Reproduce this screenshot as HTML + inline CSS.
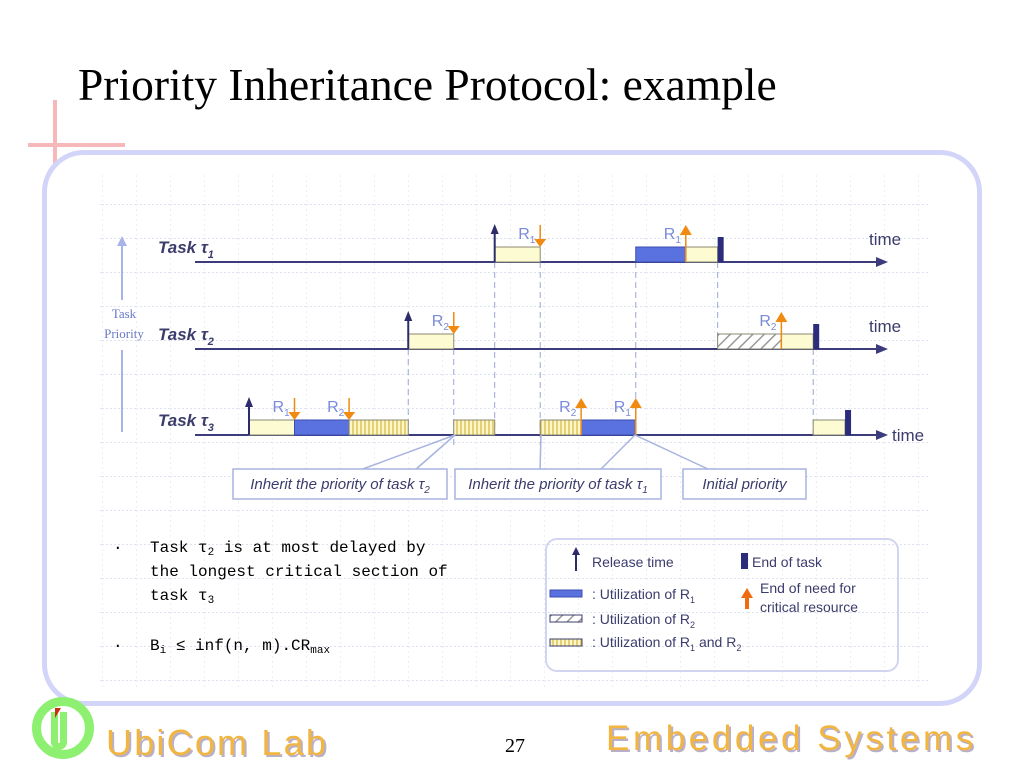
<!DOCTYPE html>
<html><head><meta charset="utf-8">
<style>
body{margin:0;width:1024px;height:768px;background:#fff;position:relative;overflow:hidden;font-family:"Liberation Sans",sans-serif}
.abs{position:absolute}
#title{left:78px;top:58px;font-family:"Liberation Serif",serif;font-size:45.5px;color:#000;white-space:nowrap}
#frame{left:42px;top:150px;width:930px;height:546px;border:5px solid #d2d5f8;border-radius:42px}
.bul{font-family:"Liberation Mono","DejaVu Sans Mono",monospace;font-size:16px;color:#000;line-height:24px}
.bul sub{font-size:11px;line-height:0;vertical-align:-3px}
.foot{font-family:"Liberation Sans",sans-serif;font-size:36px;color:#f2b640;text-shadow:2px 2px 0 #b9b0c8;letter-spacing:2.4px;white-space:nowrap}
</style></head><body>
<div class="abs" id="title">Priority Inheritance Protocol: example</div>
<div class="abs" style="left:28px;top:143px;width:97px;height:4px;background:#f6b8b8"></div>
<div class="abs" style="left:53px;top:100px;width:4px;height:65px;background:#f6b8b8"></div>
<div class="abs" id="frame"></div>

<svg class="abs" style="left:0;top:0" width="1024" height="768" id="chart">
<defs>
<pattern id="hatch" width="8" height="8" patternUnits="userSpaceOnUse" patternTransform="rotate(45)"><rect width="8" height="8" fill="#fff"/><line x1="0" y1="0" x2="0" y2="8" stroke="#999" stroke-width="3"/></pattern>
<pattern id="vstripe" width="4" height="8" patternUnits="userSpaceOnUse"><rect width="4" height="8" fill="#fdf6c8"/><line x1="1" y1="0" x2="1" y2="8" stroke="#d8b840" stroke-width="1.2"/></pattern>
<pattern id="dots" width="34" height="34" patternUnits="userSpaceOnUse"><line x1="0" y1="0.5" x2="34" y2="0.5" stroke="#dde2ee" stroke-dasharray="2 2"/><line x1="0.5" y1="0" x2="0.5" y2="34" stroke="#eceff5" stroke-dasharray="2 3"/></pattern>
<marker id="ah" markerUnits="userSpaceOnUse" markerWidth="12" markerHeight="12" refX="6" refY="6" orient="auto"><path d="M0,1 L12,6 L0,11 z" fill="#3c3c7c"/></marker>
<marker id="ahs" markerUnits="userSpaceOnUse" markerWidth="10" markerHeight="10" refX="5" refY="5" orient="auto"><path d="M0,1 L10,5 L0,9 z" fill="#2c2c6c"/></marker>
</defs>
<rect x="100" y="175" width="830" height="515" fill="url(#dots)"/>
<g id="g"></g>
</svg>

<div class="abs bul" style="left:113px;top:536px">·</div>
<div class="abs bul" style="left:150px;top:536px">Task τ<sub>2</sub> is at most delayed by<br>the longest critical section of<br>task τ<sub>3</sub></div>
<div class="abs bul" style="left:113px;top:634px">·</div>
<div class="abs bul" style="left:150px;top:634px">B<sub>i</sub> ≤ inf(n, m).CR<sub>max</sub></div>

<div class="abs" style="left:545px;top:538px;width:350px;height:130px;border:2px solid #d2d5f0;border-radius:12px"></div>

<div class="abs" style="left:32px;top:697px;width:62px;height:62px;border-radius:50%;border:9px solid #8ef070;box-sizing:border-box"></div>
<div class="abs" style="left:51px;top:712px;width:16px;height:38px;border:7px solid #8ef070;border-top:none;border-radius:0 0 8px 8px;box-sizing:border-box"></div>
<div class="abs" style="left:55px;top:708px;width:0;height:0;border-left:6px solid #c83010;border-bottom:10px solid transparent"></div>
<div class="abs foot" style="left:106px;top:722px;letter-spacing:2.2px">UbiCom Lab</div>
<div class="abs" style="left:505px;top:735px;font-family:'Liberation Serif',serif;font-size:20px">27</div>
<div class="abs foot" style="left:606px;top:719px;font-size:35px;letter-spacing:3.6px">Embedded Systems</div>

<script>
// time units; x = X0 + t*UNIT
const taskNames=["τ1","τ2","τ3"];
const releases=[5.4,3.5,0];
const ends=[10.3,12.4,13.1];
// segments
const segTask=[0,0,0, 1,1,1, 2,2,2,2,2,2,2];
const segStart=[5.4,8.5,9.6, 3.5,10.3,11.7, 0,1,2.2,4.5,6.4,7.3,12.4];
const segEnd=[6.4,9.6,10.3, 4.5,11.7,12.4, 1,2.2,3.5,5.4,7.3,8.5,13.1];
const segKind=["plain","r1","plain","plain","r2","plain","plain","r1","r12","r12","r12","r1","plain"];
// resource events
const evTask=[0,0,1,1,2,2,2,2];
const evTime=[6.4,9.6,4.5,11.7,1,2.2,7.3,8.5];
const evRes=["1","1","2","2","1","2","2","1"];
const evDir=["down","up","down","up","down","down","up","up"];
const dashTimes=[3.5,4.5,5.4,6.4,8.5,10.3,12.4];
const dashFrom=[1,1,0,0,0,0,1];
const dashTo=[2,2,2,2,2,1,2];

const X0=249,UNIT=45.5,AX=[262,349,435],H=15;
const x=t=>X0+t*UNIT;
const g=document.getElementById('g');
const NS='http://www.w3.org/2000/svg';
function mk(tag,at){const e=document.createElementNS(NS,tag);for(const k in at)e.setAttribute(k,at[k]);g.appendChild(e);return e;}
const fills={plain:"#fdfbd2",r1:"#5a72e0",r2:"url(#hatch)",r12:"url(#vstripe)"};

dashTimes.forEach((t,i)=>{const e=mk('line',{x1:x(t),x2:x(t),y1:AX[dashFrom[i]],y2:AX[dashTo[i]]+(t==4.5||t==6.4?10:0),stroke:'#9aa6d8','stroke-dasharray':'6 4','stroke-width':1});

});

AX.forEach((y,i)=>{const e=mk('line',{x1:195,x2:882,y1:y,y2:y,stroke:'#3c3c7c','stroke-width':2,'marker-end':'url(#ah)'});


const l=mk('text',{x:158,y:y-9,'font-size':17,'font-style':'italic','font-weight':'bold',fill:'#3c3c6c'});l.textContent='Task '+taskNames[i].slice(0,1);
const s=mk('tspan',{'font-size':11,dy:5});s.textContent=taskNames[i].slice(1);l.appendChild(s);


const tt=mk('text',{x:i==2?892:869,y:i==2?y+6:y-17,'font-size':17,fill:'#3c3c6c'});tt.textContent='time';

});

segTask.forEach((k,i)=>{const e=mk('rect',{x:x(segStart[i]),y:AX[k]-H,width:x(segEnd[i])-x(segStart[i]),height:H,fill:fills[segKind[i]],stroke:segKind[i]=='r1'?'#3c4cb0':'#8a8a70','stroke-width':1});

});

releases.forEach((t,k)=>{const e=mk('line',{x1:x(t),x2:x(t),y1:AX[k],y2:AX[k]-33,stroke:'#2c2c6c','stroke-width':2,'marker-end':'url(#ahs)'});

});
ends.forEach((t,k)=>{const e=mk('rect',{x:x(t),y:AX[k]-25,width:6,height:25,fill:'#2c2c7c'});

});
evTask.forEach((k,i)=>{const X=x(evTime[i]),y=AX[k]-H;
let p;if(evDir[i]=='down'){mk('line',{x1:X,x2:X,y1:y-22,y2:y-6,stroke:'#f08a10','stroke-width':1.5});p=mk('path',{d:`M${X-6},${y-8} L${X+6},${y-8} L${X},${y} z`,fill:'#f08a10'});}
else{mk('line',{x1:X,x2:X,y1:y+H,y2:y-12,stroke:'#f08a10','stroke-width':1.5});p=mk('path',{d:`M${X-6},${y-12} L${X+6},${y-12} L${X},${y-22} z`,fill:'#f08a10'});}


const t=mk('text',{x:X-22,y:y-8,'font-size':16,fill:'#7a8ad8'});t.textContent='R';const s=mk('tspan',{'font-size':10,dy:4});s.textContent=evRes[i];t.appendChild(s);

});

let e=mk('line',{x1:122,x2:122,y1:300,y2:238,stroke:'#a8b4e8','stroke-width':2});


mk('path',{d:'M117,246 L127,246 L122,236 z',fill:'#a8b4e8'});
mk('line',{x1:122,x2:122,y1:350,y2:432,stroke:'#a8b4e8','stroke-width':2});
[['Task',318],['Priority',338]].forEach(([s,y])=>{const t=mk('text',{x:124,y:y,'font-size':13,'text-anchor':'middle',fill:'#6a7ac8','font-family':'Liberation Serif'});t.textContent=s;

});

[[233,447,'Inherit the priority of task τ','2',[[455,435,360,470],[455,435,415,470]]],[455,661,'Inherit the priority of task τ','1',[[541,435,540,470],[635,435,600,470]]],[683,806,'Initial priority','',[[635,435,710,470]]]].forEach(([a,b,s,sub,ls],i)=>{
ls.forEach(l=>mk('line',{x1:l[0],y1:l[1],x2:l[2],y2:l[3],stroke:'#a8b4e0','stroke-width':1.5}));
const r=mk('rect',{x:a,y:469,width:b-a,height:30,fill:'#fff',stroke:'#a8b4e0','stroke-width':1.5});


const t=mk('text',{x:(a+b)/2,y:489,'font-size':15,'font-style':'italic','text-anchor':'middle',fill:'#3c3c6c'});t.textContent=s;
if(sub){const sp=mk('tspan',{'font-size':10,dy:4});sp.textContent=sub;t.appendChild(sp);}

});

mk('line',{x1:576,x2:576,y1:571,y2:553,stroke:'#2c2c6c','stroke-width':2});mk('path',{d:'M572,555 L580,555 L576,547 z',fill:'#2c2c6c'});
mk('rect',{x:741,y:553,width:7,height:16,fill:'#2c2c7c'});
mk('rect',{x:550,y:590,width:32,height:7,fill:'#5a72e0',stroke:'#3c4cb0'});
mk('rect',{x:550,y:615,width:32,height:7,fill:'url(#hatch)',stroke:'#3c3c6c'});
mk('rect',{x:550,y:639,width:32,height:7,fill:'url(#vstripe)',stroke:'#3c3c6c'});
mk('path',{d:'M741,598 L747,588 L753,598 L749,598 L749,609 L745,609 L745,598 z',fill:'#f06a10'});
[[592,567,'Release time'],[752,567,'End of task'],[760,593,'End of need for'],[760,612,'critical resource']].forEach(([a,b,s])=>{const t=mk('text',{x:a,y:b,'font-size':14,fill:'#3c3c6c'});t.textContent=s;

});
[[592,599,[': Utilization of R','1']],[592,624,[': Utilization of R','2']],[592,647,[': Utilization of R','1',' and R','2']]].forEach(([a,b,parts])=>{const t=mk('text',{x:a,y:b,'font-size':14,fill:'#3c3c6c'});
parts.forEach((p,j)=>{const sp=mk('tspan',j%2?{'font-size':9,dy:4}:{'font-size':14,dy:j?-4:0});sp.textContent=p;t.appendChild(sp);});

});
</script>
</body></html>
